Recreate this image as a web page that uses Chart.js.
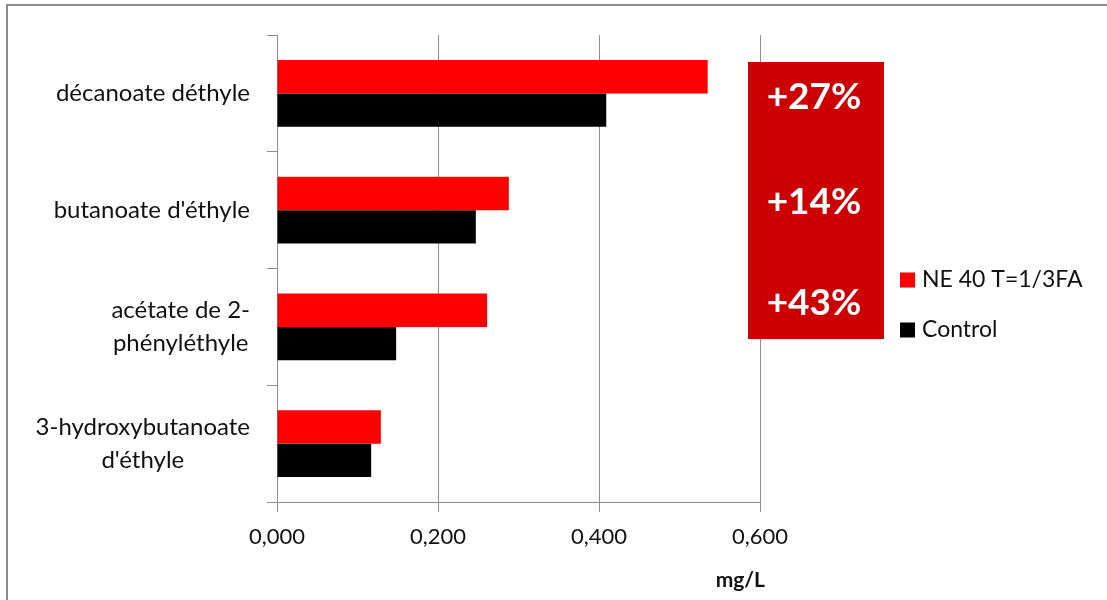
<!DOCTYPE html>
<html>
<head>
<meta charset="utf-8">
<script src="https://cdn.jsdelivr.net/npm/chart.js@4.4.0/dist/chart.umd.min.js"></script>
<style>
  html, body { margin: 0; padding: 0; background: #fff; overflow: hidden; }
  #wrap { position: relative; width: 1107px; height: 600px; }
</style>
</head>
<body>
<div id="wrap"><canvas id="c" width="1107" height="600"></canvas></div>
<script>
// Ester concentrations (mg/L)
const categories = [
  "décanoate déthyle",
  "butanoate d'éthyle",
  ["acétate de 2-", "phényléthyle"],
  ["3-hydroxybutanoate", "d'éthyle"]
];
const seriesNames = ["NE 40 T=1/3FA", "Control"];
const ne40Values = [0.535, 0.288, 0.261, 0.129];
const controlValues = [0.409, 0.247, 0.148, 0.117];
const xTicks = [0, 0.2, 0.4, 0.6];
const gainLabels = ["+27%", "+14%", "+43%"];
const axisTitle = "mg/L";

const FONT = "Lato, 'Noto Sans', sans-serif";
const GRID = "#8e8e8e";
const TEXT = "#111111";

// outer frame of the chart object
const framePlugin = {
  id: "frame",
  beforeDraw(chart) {
    const ctx = chart.ctx;
    ctx.save();
    ctx.fillStyle = "#fff";
    ctx.fillRect(0, 0, chart.width, chart.height);
    ctx.strokeStyle = "#8a8a8a";
    ctx.lineWidth = 2;
    ctx.beginPath();
    ctx.moveTo(7, chart.height);
    ctx.lineTo(7, 5);
    ctx.lineTo(chart.width, 5);
    ctx.stroke();
    ctx.restore();
  }
};

// category labels: block right-aligned, lines centred within the block
const categoryLabelPlugin = {
  id: "categoryLabels",
  afterDraw(chart) {
    const ctx = chart.ctx;
    const y = chart.scales.y;
    const right = chart.chartArea.left - 27;
    const lh = 33;
    ctx.save();
    ctx.font = "24px " + FONT;
    ctx.fillStyle = TEXT;
    ctx.textAlign = "center";
    ctx.textBaseline = "middle";
    categories.forEach((lab, i) => {
      const lines = Array.isArray(lab) ? lab : [lab];
      const w = Math.max(...lines.map(l => ctx.measureText(l).width));
      const cx = right - w / 2;
      const cy = y.getPixelForTick(i);
      lines.forEach((l, k) => {
        ctx.fillText(l, cx, cy + (k - (lines.length - 1) / 2) * lh);
      });
    });
    ctx.restore();
  }
};

// highlight box with relative increases
const gainBoxPlugin = {
  id: "gainBox",
  afterDatasetsDraw(chart) {
    const ctx = chart.ctx;
    const a = chart.chartArea;
    const x0 = a.right - 12, w = 136;
    const y0 = a.top + 27, h = 277;
    ctx.save();
    ctx.fillStyle = "#cc0000";
    ctx.fillRect(x0, y0, w, h);
    ctx.fillStyle = "#fff";
    ctx.font = "bold 37px " + FONT;
    ctx.textAlign = "center";
    ctx.textBaseline = "middle";
    const ys = [a.top + 62, a.top + 167, a.top + 268];
    gainLabels.forEach((t, i) => ctx.fillText(t, x0 + w / 2 - 2, ys[i]));
    ctx.restore();
  }
};

// legend to the right of the plot
const legendPlugin = {
  id: "sideLegend",
  afterDraw(chart) {
    const ctx = chart.ctx;
    const a = chart.chartArea;
    const x = a.right + 140;
    ctx.save();
    ctx.font = "23px " + FONT;
    ctx.textBaseline = "middle";
    chart.data.datasets.forEach((ds, i) => {
      const cy = a.top + 245 + i * 50;
      ctx.fillStyle = ds.backgroundColor;
      ctx.fillRect(x, cy - 7.5, 15, 15);
      ctx.fillStyle = TEXT;
      ctx.fillText(ds.label, x + 22, cy);
    });
    ctx.restore();
  }
};

// axis unit, right-aligned under the last tick
const unitPlugin = {
  id: "unitTitle",
  afterDraw(chart) {
    const ctx = chart.ctx;
    const a = chart.chartArea;
    ctx.save();
    ctx.font = "bold 21px " + FONT;
    ctx.fillStyle = TEXT;
    ctx.textAlign = "right";
    ctx.textBaseline = "middle";
    ctx.fillText(axisTitle, a.right + 5, chart.height - 20);
    ctx.restore();
  }
};

new Chart(document.getElementById("c"), {
  type: "bar",
  data: {
    labels: categories,
    datasets: [
      { label: seriesNames[0], data: ne40Values, backgroundColor: "#ff0000" },
      { label: seriesNames[1], data: controlValues, backgroundColor: "#000000" }
    ]
  },
  options: {
    indexAxis: "y",
    responsive: false,
    animation: false,
    devicePixelRatio: 1,
    categoryPercentage: 0.57,
    barPercentage: 1.0,
    layout: { padding: { left: 0, top: 35, right: 347, bottom: 0 } },
    plugins: { legend: { display: false }, tooltip: { enabled: false } },
    scales: {
      x: {
        min: 0,
        max: 0.6,
        afterBuildTicks: s => { s.ticks = xTicks.map(v => ({ value: v })); },
        afterFit: s => { s.height = 98; },
        grid: { color: GRID, lineWidth: 1, tickLength: 10, drawTicks: true },
        border: { display: true, color: GRID, width: 1 },
        ticks: {
          padding: 12,
          color: TEXT,
          font: { family: FONT, size: 22 },
          callback: v => Number(v).toFixed(3).replace(".", ",")
        }
      },
      y: {
        afterFit: s => { s.width = 277; },
        grid: { color: GRID, lineWidth: 1, drawOnChartArea: false, drawTicks: true, tickLength: 10, offset: true },
        border: { display: true, color: GRID, width: 1 },
        ticks: { display: false }
      }
    }
  },
  plugins: [framePlugin, categoryLabelPlugin, gainBoxPlugin, legendPlugin, unitPlugin]
});
</script>
</body>
</html>
